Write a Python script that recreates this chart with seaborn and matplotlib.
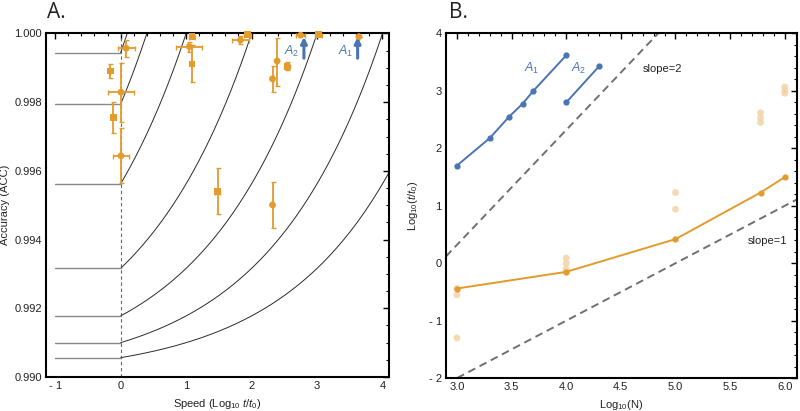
import numpy as np
import pandas as pd
import matplotlib
matplotlib.use("Agg")
import matplotlib.pyplot as plt
import seaborn as sns
from matplotlib.ticker import MultipleLocator, FixedLocator

sns.set_theme(style="white")
plt.rcParams["font.family"] = ["Liberation Sans", "DejaVu Sans"]
plt.rcParams["mathtext.fontset"] = "custom"
plt.rcParams["mathtext.rm"] = "Liberation Sans"
plt.rcParams["mathtext.it"] = "Liberation Sans:italic"

ORANGE = "#E39B2D"
LIGHT = "#F3D3A6"
BLUE = "#4A74B4"

# ---------------- Panel A data ----------------
# model curves: speed (log10 t/t0) at which accuracy reaches 1
curve_zero_speed = [0.1, 0.4, 1.0, 2.0, 3.0, 4.0, 5.0]
acc_floor = 0.99
curve_exponent = 0.25

a_x = [-0.157, 0.085, 0.005, -0.115, 0.005, 1.05, 1.09, 1.09, 1.48, 1.83, 1.94,
       2.32, 2.39, 2.54, 2.32, 2.75, 3.02, 3.64]
a_y = [0.99891, 0.99957, 0.99829, 0.99756, 0.99644, 0.99962, 0.99911, 0.99991,
       0.99540, 0.99981, 0.99996, 0.99868, 0.99920, 0.99905, 0.99501, 0.99995,
       0.99996, 0.99991]
a_xerr = [0.0, 0.127, 0.20, 0.03, 0.12, 0.20, 0.0, 0.05, 0.04, 0.125, 0.05,
          0.0, 0.0, 0.04, 0.0, 0.07, 0.05, 0.0]
a_yerr_lo = [0.0002, 0.00026, 0.00087, 0.00045, 0.0008, 0.00015, 0.00051, 0.00004,
             0.00065, 0.00012, 0.00002, 0.00037, 0.00072, 0.00012, 0.00066, 0.0,
             0.0, 0.0]
a_yerr_hi = [0.0002, 0.00024, 0.00086, 0.00044, 0.0008, 0.00013, 0.00056, 0.00004,
             0.00068, 0.00012, 0.00002, 0.00036, 0.00068, 0.00012, 0.00068, 0.0,
             0.0, 0.0]
a_marker = ["s", "o", "o", "s", "o", "o", "s", "s", "s", "o", "s",
            "o", "o", "s", "o", "o", "s", "o"]

arrow_x = [2.80, 3.62]
arrow_labels = ["$A_2$", "$A_1$"]

# ---------------- Panel B data ----------------
a1_logN = [3.0, 3.301, 3.477, 3.602, 3.699, 4.0]
a1_logt = [1.70, 2.18, 2.55, 2.78, 3.00, 3.62]
a2_logN = [4.0, 4.301]
a2_logt = [2.80, 3.43]
mean_logN = [3.0, 4.0, 5.0, 5.778, 6.0]
mean_logt = [-0.44, -0.15, 0.42, 1.23, 1.50]
ind_logN = [3.0, 3.0, 3.0, 4.0, 4.0, 4.0, 4.0, 5.0, 5.0,
            5.778, 5.778, 5.778, 6.0, 6.0, 6.0]
ind_logt = [-0.44, -0.55, -1.30, 0.09, 0.0, -0.10, -0.15, 0.94, 1.23,
            2.62, 2.53, 2.45, 3.07, 3.01, 2.96]
slope2_intercept = -5.68
slope1_intercept = -5.0

fig = plt.figure(figsize=(8, 4.11), dpi=100)
axA = fig.add_axes([0.0575, 0.0827, 0.4288, 0.8358])
axB = fig.add_axes([0.5575, 0.0800, 0.4385, 0.8385])

# ---------- Panel A ----------
rows = []
for i, xz in enumerate(curve_zero_speed):
    xs = np.linspace(0, min(xz, 4.12), 200)
    acc = 1 - (1 - acc_floor) * (1 - 10 ** ((xs - xz) * curve_exponent))
    for xv, yv in zip(xs, acc):
        rows.append({"x": xv, "acc": yv, "curve": i})
curves = pd.DataFrame(rows)
sns.lineplot(data=curves, x="x", y="acc", units="curve", estimator=None,
             color="#2a2a2a", lw=0.7, ax=axA, legend=False, sort=False)
flat_rows = []
for i, xz in enumerate(curve_zero_speed):
    a0 = 1 - (1 - acc_floor) * (1 - 10 ** (-xz * curve_exponent))
    flat_rows += [{"x": -1.0, "acc": a0, "curve": i}, {"x": 0.0, "acc": a0, "curve": i}]
flats = pd.DataFrame(flat_rows)
sns.lineplot(data=flats, x="x", y="acc", units="curve", estimator=None,
             color="#8a8a8a", lw=1.0, ax=axA, legend=False)
axA.axvline(0, color="#666666", lw=0.8, ls=(0, (3, 2.5)), zorder=1)

dfA = pd.DataFrame({"x": a_x, "y": a_y, "m": a_marker})
axA.errorbar(a_x, a_y, xerr=a_xerr, yerr=[a_yerr_lo, a_yerr_hi], fmt="none",
             ecolor=ORANGE, elinewidth=1.3, capsize=1.8, capthick=1.0, zorder=3)
sns.scatterplot(data=dfA, x="x", y="y", style="m", markers={"o": "o", "s": "s"},
                color=ORANGE, s=24, edgecolor="none", ax=axA, legend=False, zorder=4,
                clip_on=False)

for xa, lab in zip(arrow_x, arrow_labels):
    axA.annotate("", xy=(xa, 0.99990), xytext=(xa, 0.99928),
                 arrowprops=dict(arrowstyle="-|>", color=BLUE, lw=2.2,
                                 mutation_scale=9, shrinkA=0, shrinkB=0))
    axA.text(xa - 0.07, 0.99948, lab, color=BLUE, fontsize=9, ha="right", va="center")

axA.set_xlim(-1.14, 4.1)
axA.set_ylim(0.990, 1.000)
axA.xaxis.set_major_locator(FixedLocator([-1, 0, 1, 2, 3, 4]))
axA.set_xticklabels(["- 1", "0", "1", "2", "3", "4"])
axA.xaxis.set_minor_locator(MultipleLocator(0.2))
axA.yaxis.set_major_locator(FixedLocator([0.990, 0.992, 0.994, 0.996, 0.998, 1.000]))
axA.set_yticklabels(["0.990", "0.992", "0.994", "0.996", "0.998", "1.000"])
axA.yaxis.set_minor_locator(MultipleLocator(0.0005))
axA.set_xlabel(r"Speed (Log$_{10}$ $t$/$t_0$)", fontsize=8, labelpad=4, color="#222222")
axA.set_ylabel("Accuracy (ACC)", fontsize=8, labelpad=3, color="#222222")

# ---------- Panel B ----------
xx = np.array([2.9, 6.11])
dfs2 = pd.DataFrame({"x": xx, "y": 2 * xx + slope2_intercept})
dfs1 = pd.DataFrame({"x": xx, "y": xx + slope1_intercept})
sns.lineplot(data=dfs2, x="x", y="y", color="#707070", lw=1.4, ax=axB,
             linestyle=(0, (4, 2.5)))
sns.lineplot(data=dfs1, x="x", y="y", color="#707070", lw=1.4, ax=axB,
             linestyle=(0, (4, 2.5)))

dfind = pd.DataFrame({"x": ind_logN, "y": ind_logt})
sns.scatterplot(data=dfind, x="x", y="y", color=LIGHT, s=24, edgecolor="none",
                alpha=0.85, ax=axB, zorder=2)
dfmean = pd.DataFrame({"x": mean_logN, "y": mean_logt})
sns.lineplot(data=dfmean, x="x", y="y", color=ORANGE, lw=1.4, marker="o",
             markersize=4.5, markeredgewidth=0, ax=axB, zorder=3)
dfa1 = pd.DataFrame({"x": a1_logN, "y": a1_logt})
dfa2 = pd.DataFrame({"x": a2_logN, "y": a2_logt})
sns.lineplot(data=dfa1, x="x", y="y", color=BLUE, lw=1.4, marker="o",
             markersize=4.5, markeredgewidth=0, ax=axB, zorder=3)
sns.lineplot(data=dfa2, x="x", y="y", color=BLUE, lw=1.4, marker="o",
             markersize=4.5, markeredgewidth=0, ax=axB, zorder=3)

axB.text(3.68, 3.39, "$A_1$", color=BLUE, fontsize=9, ha="center", va="center")
axB.text(4.11, 3.39, "$A_2$", color=BLUE, fontsize=9, ha="center", va="center")
axB.text(4.88, 3.39, "slope=2", color="#222222", fontsize=8, ha="center", va="center")
axB.text(5.84, 0.38, "slope=1", color="#222222", fontsize=8, ha="center", va="center")

axB.set_xlim(2.9, 6.11)
axB.set_ylim(-2, 4)
axB.xaxis.set_major_locator(FixedLocator([3.0, 3.5, 4.0, 4.5, 5.0, 5.5, 6.0]))
axB.set_xticklabels(["3.0", "3.5", "4.0", "4.5", "5.0", "5.5", "6.0"])
axB.xaxis.set_minor_locator(MultipleLocator(0.1))
axB.yaxis.set_major_locator(FixedLocator([-2, -1, 0, 1, 2, 3, 4]))
axB.set_yticklabels(["- 2", "- 1", "0", "1", "2", "3", "4"])
axB.yaxis.set_minor_locator(MultipleLocator(0.2))
axB.set_xlabel(r"Log$_{10}$(N)", fontsize=8, labelpad=4, color="#222222")
axB.set_ylabel(r"Log$_{10}$($t$/$t_0$)", fontsize=8, labelpad=6, color="#222222")

for ax in (axA, axB):
    for sp in ax.spines.values():
        sp.set_linewidth(1.5)
        sp.set_color("black")
        sp.set_visible(True)
    ax.tick_params(which="both", direction="in", top=True, right=True,
                   colors="black", labelcolor="#222222", labelsize=8)
    ax.tick_params(which="major", length=4, width=1.0, pad=3)
    ax.tick_params(which="minor", length=2.2, width=0.8)
    ax.grid(False)

fig.text(0.059, 0.970, "A.", fontsize=15, family=["Open Sans", "DejaVu Sans"],
         va="center", ha="left", color="#222222")
fig.text(0.561, 0.970, "B.", fontsize=15, family=["Open Sans", "DejaVu Sans"],
         va="center", ha="left", color="#222222")

fig.savefig("out.png", dpi=100)
